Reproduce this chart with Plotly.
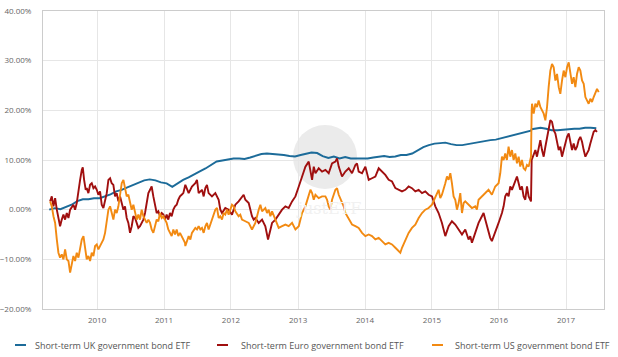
import datetime as dt
import plotly.graph_objects as go

# ---------------- data ----------------
# UK series: mid-month samples (plus the two days around the June 2016 jump)
uk_dates = []
for y in range(2009, 2018):
    for m in range(1, 13):
        if (y == 2009 and m < 4) or (y == 2017 and m > 6):
            continue
        uk_dates.append(f"{y}-{m:02d}-15")
_i = uk_dates.index("2016-06-15") + 1
uk_dates = uk_dates[:_i] + ["2016-06-23", "2016-06-28"] + uk_dates[_i:]

uk_vals = [
    0.0, 0.3, 0.1, 0.5, 1.0, 1.7, 2.1, 2.1, 2.3, 2.3,
    2.7, 3.1, 3.7, 4.0, 4.5, 5.0, 5.5, 5.9, 6.1, 5.9,
    5.5, 5.3, 4.6, 5.3, 6.0, 6.5, 7.2, 7.7, 8.3, 9.0,
    9.7, 9.9, 10.1, 10.3, 10.3, 10.2, 10.5, 10.8, 11.2, 11.3,
    11.2, 11.2, 11.0, 10.8, 10.7, 11.0, 11.2, 11.5, 11.4, 10.8,
    10.4, 10.7, 10.3, 10.6, 10.3, 10.3, 10.2, 10.3, 10.5, 10.6,
    10.8, 10.6, 10.7, 11.0, 11.0, 11.3, 12.0, 12.6, 13.0, 13.3,
    13.4, 13.5, 13.2, 13.0, 13.0, 13.2, 13.4, 13.7, 13.9, 14.0,
    14.1, 14.4, 14.7, 15.0, 15.3, 15.6, 15.9, 15.9, 16.2, 16.3, 16.5, 16.3,
    16.0, 16.0, 16.1, 16.3, 16.3, 16.3, 16.5, 16.5, 16.4,
]

# Euro series: readings as (decimal year, % return)
euro_years = [
    2009.298, 2009.323, 2009.348, 2009.373, 2009.398, 2009.447, 2009.472, 2009.497, 2009.522, 2009.547,
    2009.572, 2009.597, 2009.646, 2009.671, 2009.696, 2009.721, 2009.746, 2009.771, 2009.786, 2009.806,
    2009.830, 2009.845, 2009.870, 2009.895, 2009.920, 2009.945, 2009.970, 2009.995, 2010.019, 2010.044,
    2010.069, 2010.094, 2010.119, 2010.144, 2010.169, 2010.194, 2010.218, 2010.243, 2010.268, 2010.293,
    2010.318, 2010.343, 2010.368, 2010.393, 2010.417, 2010.442, 2010.467, 2010.492, 2010.517, 2010.542,
    2010.567, 2010.592, 2010.616, 2010.641, 2010.666, 2010.691, 2010.716, 2010.741, 2010.766, 2010.791,
    2010.815, 2010.840, 2010.865, 2010.890, 2010.915, 2010.940, 2010.965, 2010.990, 2011.014, 2011.039,
    2011.064, 2011.089, 2011.114, 2011.139, 2011.164, 2011.189, 2011.213, 2011.238, 2011.263, 2011.288,
    2011.318, 2011.368, 2011.417, 2011.467, 2011.492, 2011.517, 2011.567, 2011.592, 2011.617, 2011.641,
    2011.666, 2011.716, 2011.766, 2011.791, 2011.816, 2011.841, 2011.866, 2011.915, 2011.965, 2012.015,
    2012.065, 2012.114, 2012.164, 2012.189, 2012.214, 2012.264, 2012.313, 2012.338, 2012.363, 2012.413,
    2012.463, 2012.512, 2012.552, 2012.587, 2012.612, 2012.662, 2012.711, 2012.761, 2012.811, 2012.860,
    2012.910, 2012.960, 2013.010, 2013.059, 2013.084, 2013.109, 2013.159, 2013.184, 2013.209, 2013.234,
    2013.259, 2013.308, 2013.358, 2013.408, 2013.457, 2013.507, 2013.557, 2013.582, 2013.607, 2013.656,
    2013.706, 2013.756, 2013.806, 2013.856, 2013.880, 2013.905, 2013.955, 2014.005, 2014.055, 2014.104,
    2014.154, 2014.204, 2014.254, 2014.303, 2014.353, 2014.403, 2014.453, 2014.502, 2014.552, 2014.602,
    2014.651, 2014.701, 2014.751, 2014.801, 2014.851, 2014.900, 2014.950, 2015.000, 2015.050, 2015.099,
    2015.149, 2015.199, 2015.249, 2015.298, 2015.348, 2015.398, 2015.448, 2015.497, 2015.547, 2015.572,
    2015.597, 2015.646, 2015.696, 2015.746, 2015.771, 2015.796, 2015.821, 2015.845, 2015.870, 2015.895,
    2015.945, 2015.995, 2016.045, 2016.070, 2016.094, 2016.119, 2016.144, 2016.169, 2016.194, 2016.244,
    2016.269, 2016.294, 2016.318, 2016.343, 2016.368, 2016.393, 2016.418, 2016.443, 2016.468, 2016.478,
    2016.488, 2016.518, 2016.543, 2016.567, 2016.592, 2016.617, 2016.642, 2016.667, 2016.692, 2016.717,
    2016.741, 2016.766, 2016.791, 2016.816, 2016.841, 2016.866, 2016.891, 2016.915, 2016.940, 2016.965,
    2016.990, 2017.015, 2017.040, 2017.065, 2017.090, 2017.114, 2017.139, 2017.164, 2017.189, 2017.214,
    2017.239, 2017.264, 2017.289, 2017.313, 2017.338, 2017.363, 2017.388, 2017.413, 2017.438, 2017.463,
]
euro_vals = [
    1.67, 2.67, 0.67, 2.33, 0.0, -3.33, -2.0, -1.0, -2.0, -0.67,
    -1.67, 0.0, 1.0, 0.0, 1.33, 4.33, 6.0, 8.0, 8.53, 6.0,
    4.0, 4.33, 3.33, 5.0, 5.33, 4.33, 4.67, 4.0, 3.0, 3.67,
    1.0, 0.33, 2.0, 3.33, 6.0, 6.33, 5.33, 5.0, 2.67, 3.33,
    1.67, 2.67, 1.33, 0.0, 0.67, -1.67, -2.67, -4.67, -3.33, -1.33,
    -1.67, -2.67, -3.67, -3.33, -2.67, -2.0, -0.67, 1.33, 3.33, 4.0,
    4.67, 2.67, 0.67, -0.67, -0.33, -1.33, -0.67, -1.0, -2.0, -1.0,
    -2.0, -0.67, -1.33, 0.0, 0.67, 1.0, 2.0, 2.67, 3.0, 3.33,
    5.0, 3.33, 4.67, 5.33, 6.0, 3.33, 4.0, 2.67, 4.33, 5.0,
    3.33, 2.67, 3.33, 2.67, 2.0, 0.0, -0.67, 0.33, 0.0, -1.0,
    1.0, 1.67, 2.67, 3.0, 2.0, 1.33, -1.33, -2.0, -1.67, -2.67,
    -2.0, -3.33, -6.0, -4.0, -2.67, -2.0, -1.0, 0.0, 0.67, 0.33,
    1.67, 2.67, 4.67, 6.67, 7.67, 8.67, 9.67, 8.0, 6.0, 8.67,
    7.33, 8.33, 7.67, 8.0, 7.33, 9.33, 9.67, 10.33, 8.67, 6.67,
    7.67, 8.33, 7.33, 9.0, 9.33, 7.67, 7.33, 8.67, 6.0, 6.33,
    6.67, 8.33, 7.67, 7.0, 6.0, 5.67, 4.33, 4.0, 3.67, 4.0,
    4.67, 4.33, 3.67, 4.0, 3.33, 3.67, 3.0, 2.67, 0.67, -0.67,
    -2.67, -5.33, -3.33, -2.33, -3.0, -4.0, -5.0, -4.0, -6.0, -5.33,
    -6.67, -4.67, -2.67, -1.33, -0.67, -2.0, -3.33, -4.67, -5.67, -6.33,
    -4.67, -2.67, -0.67, 0.67, 2.67, 3.33, 2.67, 4.67, 4.0, 6.0,
    6.67, 5.33, 4.0, 4.67, 2.67, 2.0, 4.67, 2.67, 1.67, 1.67,
    10.0, 11.0, 12.0, 10.67, 12.67, 14.0, 12.0, 10.67, 12.67, 14.67,
    16.0, 18.0, 17.67, 16.0, 15.33, 13.33, 12.0, 12.67, 10.67, 12.0,
    13.33, 14.67, 15.33, 13.33, 12.0, 13.33, 12.0, 12.67, 14.0, 14.67,
    13.67, 12.0, 10.67, 11.33, 12.0, 13.33, 14.67, 15.67, 16.0, 15.67,
]

# US series: readings as (decimal year, % return)
us_years = [
    2009.298, 2009.323, 2009.348, 2009.373, 2009.398, 2009.422, 2009.447, 2009.472, 2009.497, 2009.522,
    2009.547, 2009.572, 2009.597, 2009.621, 2009.646, 2009.671, 2009.696, 2009.721, 2009.746, 2009.771,
    2009.796, 2009.820, 2009.845, 2009.870, 2009.895, 2009.920, 2009.945, 2009.970, 2009.995, 2010.019,
    2010.044, 2010.069, 2010.094, 2010.119, 2010.144, 2010.169, 2010.194, 2010.218, 2010.243, 2010.268,
    2010.293, 2010.318, 2010.343, 2010.368, 2010.393, 2010.417, 2010.442, 2010.467, 2010.492, 2010.517,
    2010.542, 2010.567, 2010.592, 2010.616, 2010.641, 2010.666, 2010.691, 2010.716, 2010.741, 2010.766,
    2010.791, 2010.815, 2010.840, 2010.865, 2010.890, 2010.915, 2010.940, 2010.965, 2010.990, 2011.014,
    2011.039, 2011.064, 2011.089, 2011.114, 2011.139, 2011.164, 2011.189, 2011.213, 2011.238, 2011.263,
    2011.288, 2011.313, 2011.318, 2011.368, 2011.393, 2011.417, 2011.467, 2011.492, 2011.517, 2011.542,
    2011.567, 2011.592, 2011.617, 2011.641, 2011.666, 2011.716, 2011.741, 2011.766, 2011.791, 2011.816,
    2011.841, 2011.866, 2011.890, 2011.915, 2011.940, 2011.965, 2012.015, 2012.040, 2012.065, 2012.114,
    2012.139, 2012.164, 2012.214, 2012.264, 2012.313, 2012.363, 2012.413, 2012.438, 2012.463, 2012.512,
    2012.537, 2012.562, 2012.587, 2012.612, 2012.662, 2012.711, 2012.761, 2012.811, 2012.860, 2012.910,
    2012.960, 2013.010, 2013.035, 2013.059, 2013.109, 2013.159, 2013.184, 2013.209, 2013.234, 2013.259,
    2013.308, 2013.358, 2013.408, 2013.433, 2013.457, 2013.482, 2013.507, 2013.557, 2013.582, 2013.607,
    2013.656, 2013.681, 2013.706, 2013.756, 2013.806, 2013.856, 2013.905, 2013.955, 2014.005, 2014.055,
    2014.104, 2014.154, 2014.204, 2014.254, 2014.303, 2014.353, 2014.403, 2014.453, 2014.502, 2014.527,
    2014.552, 2014.602, 2014.651, 2014.701, 2014.751, 2014.801, 2014.851, 2014.900, 2014.950, 2015.000,
    2015.050, 2015.099, 2015.124, 2015.149, 2015.199, 2015.224, 2015.249, 2015.274, 2015.298, 2015.323,
    2015.348, 2015.373, 2015.398, 2015.423, 2015.448, 2015.473, 2015.497, 2015.547, 2015.597, 2015.646,
    2015.671, 2015.696, 2015.746, 2015.796, 2015.845, 2015.895, 2015.945, 2015.995, 2016.020, 2016.045,
    2016.070, 2016.094, 2016.119, 2016.144, 2016.169, 2016.194, 2016.219, 2016.244, 2016.269, 2016.294,
    2016.318, 2016.343, 2016.368, 2016.393, 2016.418, 2016.443, 2016.468, 2016.478, 2016.488, 2016.493,
    2016.518, 2016.543, 2016.567, 2016.592, 2016.617, 2016.642, 2016.667, 2016.692, 2016.717, 2016.741,
    2016.766, 2016.791, 2016.816, 2016.841, 2016.866, 2016.891, 2016.915, 2016.940, 2016.965, 2016.990,
    2017.015, 2017.040, 2017.065, 2017.090, 2017.114, 2017.139, 2017.164, 2017.189, 2017.214, 2017.239,
    2017.264, 2017.289, 2017.313, 2017.338, 2017.363, 2017.388, 2017.413, 2017.438, 2017.463, 2017.488,
]
us_vals = [
    1.67, 0.67, -1.33, -2.67, -6.0, -8.67, -9.67, -9.0, -10.0, -8.0,
    -10.0, -10.33, -12.67, -10.67, -9.33, -10.33, -8.67, -9.67, -8.0, -6.0,
    -5.33, -7.33, -10.0, -9.33, -10.33, -8.67, -9.33, -7.33, -7.0, -8.0,
    -7.33, -6.67, -6.0, -4.67, -2.0, 0.0, 0.67, -0.67, -2.0, 0.0,
    -0.67, 0.67, 2.67, 5.33, 6.0, 4.33, 2.67, 3.0, 1.33, 0.0,
    1.0, -0.67, -2.0, -1.0, -2.0, 0.0, -1.33, -2.0, -2.67, -2.0,
    -2.67, -4.0, -4.67, -3.33, -2.0, -2.33, -0.67, -1.67, -1.33, -2.0,
    -2.67, -4.0, -4.67, -5.33, -4.0, -5.0, -4.0, -5.33, -4.67, -5.33,
    -6.0, -6.67, -7.33, -5.33, -6.0, -4.67, -3.67, -4.0, -3.33, -4.0,
    -3.67, -4.67, -3.33, -2.67, -4.0, -2.0, -1.33, 0.0, 0.33, -1.67,
    -1.33, -2.0, -0.67, -1.0, 0.0, -1.0, 1.0, 0.67, -0.33, -1.33,
    -1.0, -2.0, -2.33, -2.67, -4.0, -2.67, 0.0, 1.0, -0.33, 0.33,
    -0.67, 0.0, -1.33, -0.33, -2.0, -3.67, -3.33, -3.0, -3.33, -2.67,
    -4.0, -3.33, -2.0, -0.67, 0.67, 2.67, 4.0, 3.33, 2.0, 3.0,
    2.33, 2.67, 2.67, 2.0, 0.67, 0.0, 2.0, 4.0, 4.33, 3.0,
    1.67, 0.67, -0.67, -2.0, -3.0, -3.33, -3.67, -4.67, -5.33, -5.0,
    -5.33, -6.0, -5.67, -6.33, -7.0, -6.67, -7.0, -7.67, -8.33, -8.67,
    -7.67, -6.0, -4.67, -3.67, -3.0, -1.67, -0.67, 0.0, 0.33, 1.0,
    2.67, 4.0, 2.33, 3.0, 5.33, 6.67, 6.0, 7.33, 5.33, 2.67,
    2.0, 0.0, 1.33, 3.33, -0.67, 1.33, 1.67, 1.0, 0.33, 0.67,
    0.0, 2.0, 2.67, 3.33, 4.0, 3.0, 4.67, 5.33, 7.33, 10.67,
    10.0, 11.33, 10.0, 12.67, 10.67, 12.0, 10.0, 11.33, 9.33, 10.67,
    8.67, 10.0, 8.33, 8.0, 9.0, 8.67, 10.67, 10.67, 20.0, 21.33,
    19.33, 21.33, 20.67, 22.0, 20.67, 20.0, 19.33, 18.0, 20.67, 24.67,
    28.0, 29.33, 28.67, 26.0, 27.33, 24.67, 23.33, 26.0, 28.0, 26.67,
    28.67, 29.67, 27.33, 25.33, 26.67, 24.67, 27.33, 28.67, 28.0, 26.0,
    25.33, 22.67, 22.0, 21.33, 22.33, 21.67, 22.67, 23.67, 24.33, 23.67,
]

series_names = [
    "Short-term UK government bond ETF",
    "Short-term Euro government bond ETF",
    "Short-term US government bond ETF",
]
series_colors = ["#1c6b99", "#a00f0f", "#f28a12"]


def year_to_date(t):
    y = int(t)
    start = dt.datetime(y, 1, 1)
    end = dt.datetime(y + 1, 1, 1)
    return (start + (end - start) * (t - y)).strftime("%Y-%m-%d %H:%M")


series_x = [uk_dates, [year_to_date(t) for t in euro_years], [year_to_date(t) for t in us_years]]
series_y = [uk_vals, euro_vals, us_vals]

# ---------------- figure ----------------
W, H = 618, 357
ML, MR, MT, MB = 43, 14, 11, 48
PW, PH = W - ML - MR, H - MT - MB

fig = go.Figure()
for name, xs, ys, col in zip(series_names, series_x, series_y, series_colors):
    fig.add_trace(go.Scatter(x=xs, y=ys, mode="lines", name=name,
                             line=dict(color=col, width=1.9), showlegend=False))


def px(x):  # page pixel -> paper fraction
    return (x - ML) / PW


def py(y):
    return (H - MB - y) / PH


# faint watermark
fig.add_shape(type="circle", xref="paper", yref="paper",
              x0=px(293), x1=px(357), y0=py(189), y1=py(125),
              fillcolor="#ebebeb", line=dict(width=0), layer="below")
fig.add_annotation(text="justETF", xref="paper", yref="paper",
                   x=px(328), y=py(208), showarrow=False,
                   font=dict(family="DejaVu Serif", size=16, color="#f1f1f1"))

# legend drawn below the plot
legend_line_x = [15, 217, 432]
legend_text_x = [33, 238.5, 452.5]
legend_y = 345
for name, col, lx, tx in zip(series_names, series_colors, legend_line_x, legend_text_x):
    fig.add_shape(type="line", xref="paper", yref="paper",
                  x0=px(lx), x1=px(lx + 11), y0=py(legend_y), y1=py(legend_y),
                  line=dict(color=col, width=2))
    fig.add_annotation(text=name, xref="paper", yref="paper", x=px(tx), y=py(legend_y),
                       xanchor="left", yanchor="middle", showarrow=False,
                       font=dict(family="Open Sans", size=9, color="#555555"))

fig.update_layout(
    width=W, height=H,
    margin=dict(l=ML, r=MR, t=MT, b=MB, autoexpand=False),
    paper_bgcolor="white", plot_bgcolor="white",
    font=dict(family="Open Sans", size=8, color="#666666"),
    showlegend=False,
    hovermode=False,
    xaxis=dict(type="date", range=["2009-03-12", "2017-07-27"],
               tick0="2010-01-01", dtick="M12", tickformat="%Y",
               showgrid=True, gridcolor="#e6e6e6", gridwidth=1,
               showline=True, linecolor="#cccccc", linewidth=1, mirror=True,
               ticks="", zeroline=False, automargin=False,
               ticklabelstandoff=3, ticklabeloverflow="allow",
               tickfont=dict(size=8, color="#666666")),
    yaxis=dict(range=[-20, 40], dtick=10, tickformat=".2f", ticksuffix="%",
               showgrid=True, gridcolor="#e6e6e6", gridwidth=1,
               showline=True, linecolor="#cccccc", linewidth=1, mirror=True,
               zeroline=False, ticks="", automargin=False,
               ticklabelstandoff=9, ticklabeloverflow="allow",
               tickfont=dict(size=8, color="#666666")),
)

# remove the browser's default 8 px page margin so the figure sits at the window origin;
# hide the interactive toolbar
fig.write_html("out.html",
               config={"displayModeBar": False},
               post_script="document.body.style.margin='0px';document.body.style.overflow='hidden';")
